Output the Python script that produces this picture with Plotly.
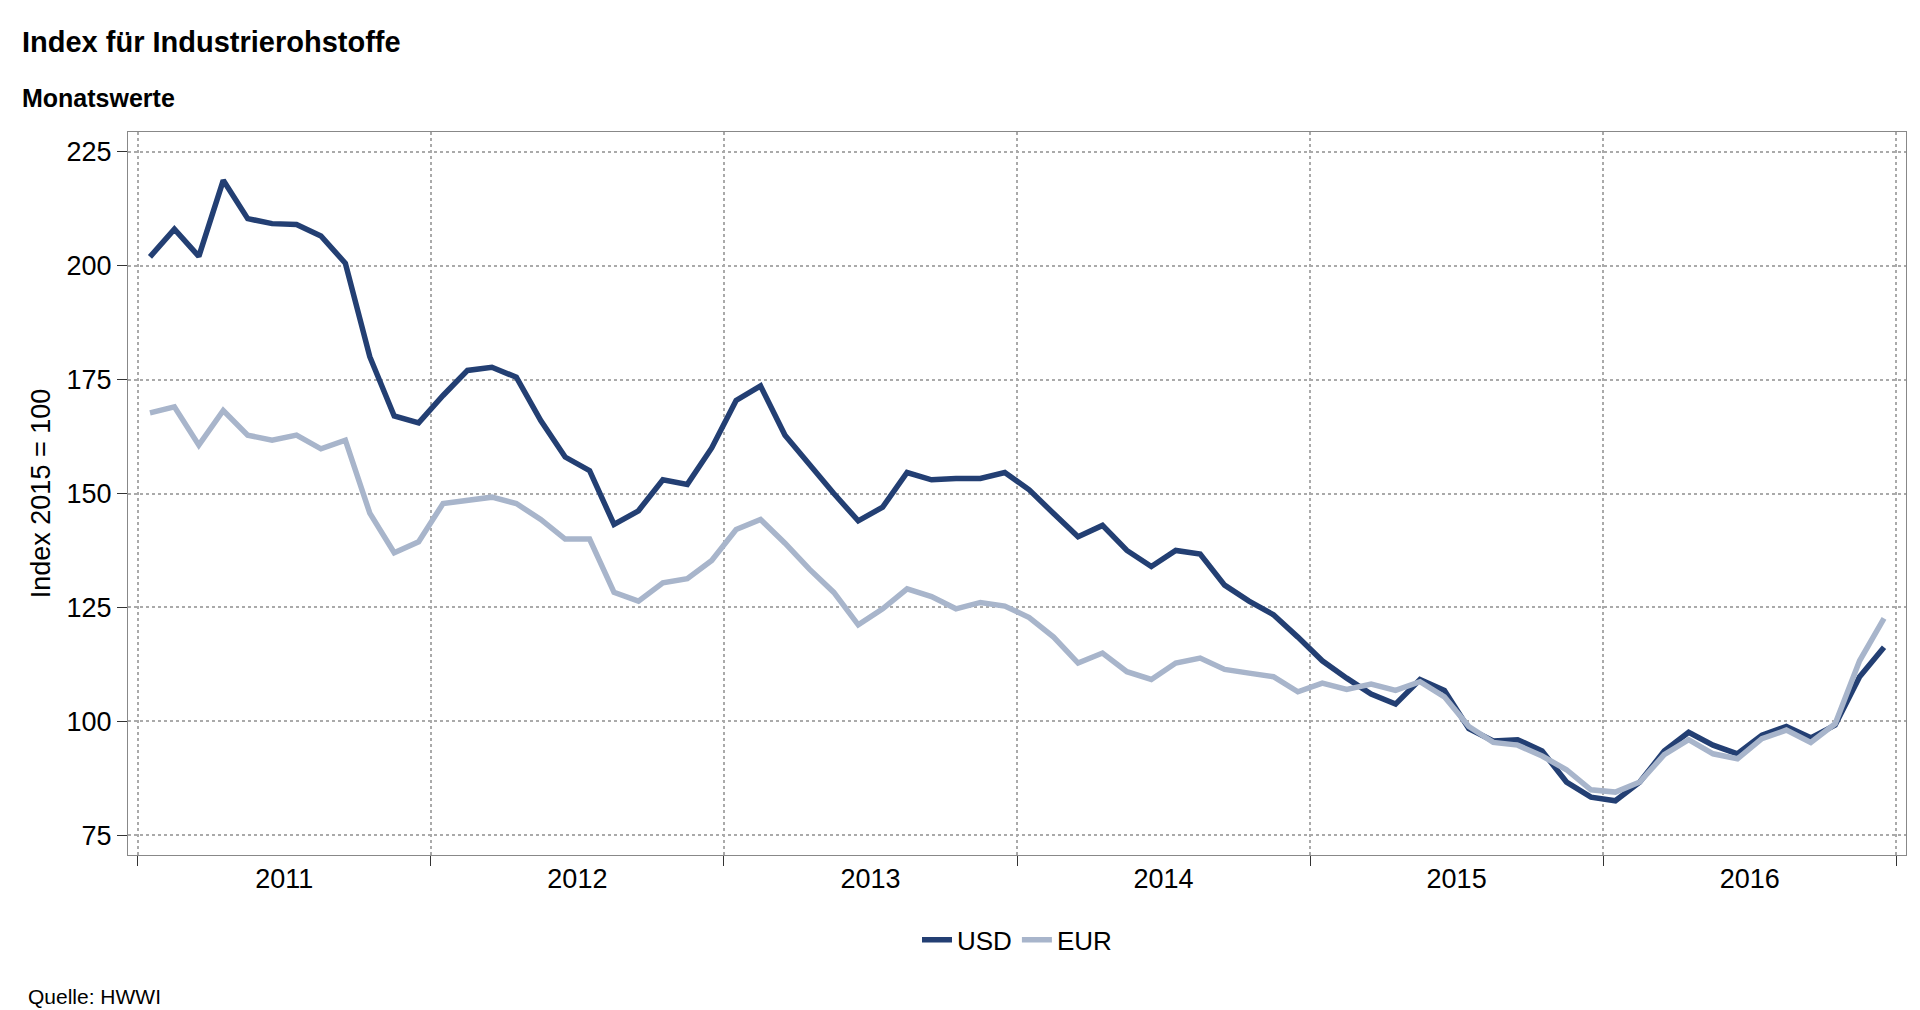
import plotly.graph_objects as go

years = ["2011", "2012", "2013", "2014", "2015", "2016"]
usd = [201.9, 208, 202, 218.7, 210.3, 209.2, 209, 206.5, 200.5, 180, 167, 165.5,
       171.5, 177, 177.7, 175.5, 166, 158, 155, 143.2, 146.2, 153, 152, 160,
       170.4, 173.6, 162.8, 156.3, 150, 144, 147, 154.6, 153, 153.3, 153.3, 154.6,
       150.8, 145.6, 140.5, 143, 137.5, 134, 137.5, 136.7, 129.9, 126.4, 123.4, 118.5,
       113.3, 109.5, 106, 103.8, 109.2, 106.8, 98.4, 95.7, 96, 93.5, 86.7, 83.4,
       82.6, 86.7, 93.5, 97.6, 94.8, 92.9, 97, 98.9, 96.4, 99.2, 109.8, 116.3]
eur = [167.7, 169, 160.6, 168.2, 162.8, 161.7, 162.8, 159.8, 161.7, 145.7, 137, 139.4,
       147.8, 148.4, 149.2, 147.8, 144.3, 140, 140, 128.3, 126.4, 130.4, 131.3, 135.3,
       142.1, 144.3, 139.1, 133.4, 128.3, 121.2, 124.7, 129.1, 127.4, 124.7, 126.1, 125.3,
       122.8, 118.5, 112.8, 115, 110.9, 109.2, 112.8, 113.9, 111.4, 110.6, 109.8, 106.5,
       108.4, 107, 108.2, 106.8, 108.7, 105.4, 98.9, 95.4, 94.8, 92.4, 89.4, 85,
       84.5, 86.7, 92.7, 96, 92.9, 91.8, 96.2, 98.1, 95.4, 99.5, 113.3, 122.6]

x = [i + 0.5 for i in range(len(usd))]
font = "Liberation Sans, Arial, sans-serif"

fig = go.Figure()
fig.add_trace(go.Scatter(x=x, y=usd, name="USD", mode="lines",
                         line=dict(color="#233f73", width=5.5)))
fig.add_trace(go.Scatter(x=x, y=eur, name="EUR", mode="lines",
                         line=dict(color="#a8b5cb", width=5.5)))

L, R, T, B = 120, 22, 124, 163
fig.update_layout(
    width=1920, height=1010, plot_bgcolor="white", paper_bgcolor="white",
    font=dict(family=font, size=24, color="black"),
    margin=dict(l=L, r=R, t=T, b=B),
    showlegend=True,
    legend=dict(orientation="h", x=0.5, xanchor="center", y=-0.085, yanchor="top",
                font=dict(size=26), traceorder="normal"),
)
H = 1010 - T - B
W = 1920 - L - R
def px(xp): return (xp - L) / W
def py(yp): return (1010 - B - yp) / H
fig.layout.annotations = [
    dict(text="<b>Index für Industrierohstoffe</b>", x=px(12), y=py(16), xref="paper", yref="paper",
         showarrow=False, font=dict(size=29), xanchor="left", yanchor="top"),
    dict(text="<b>Monatswerte</b>", x=px(12), y=py(74), xref="paper", yref="paper",
         showarrow=False, font=dict(size=25), xanchor="left", yanchor="top"),
    dict(text="Quelle: HWWI", x=px(18), y=py(975), xref="paper", yref="paper",
         showarrow=False, font=dict(size=21), xanchor="left", yanchor="top"),
]

fig.update_xaxes(range=[-0.4, 72.4], tickvals=[6, 18, 30, 42, 54, 66], ticktext=years,
                 ticks="", showgrid=False, zeroline=False,
                 showline=True, linecolor="#888", mirror=True, tickfont=dict(size=27),
                 minor=dict(tick0=0, dtick=12, ticks="outside", ticklen=10, tickcolor="#333",
                            showgrid=True, gridcolor="#aaa", griddash="dot", gridwidth=1.5))
fig.update_yaxes(range=[70.7, 229.3], tickvals=[75, 100, 125, 150, 175, 200, 225],
                 ticks="outside", ticklen=10, tickcolor="#333", showgrid=True,
                 gridcolor="#aaa", griddash="dot", gridwidth=1.5, zeroline=False,
                 showline=True, linecolor="#888", mirror=True, tickfont=dict(size=27),
                 title=dict(text="Index 2015 = 100", font=dict(size=27), standoff=8))

fig.write_html("out.html")
